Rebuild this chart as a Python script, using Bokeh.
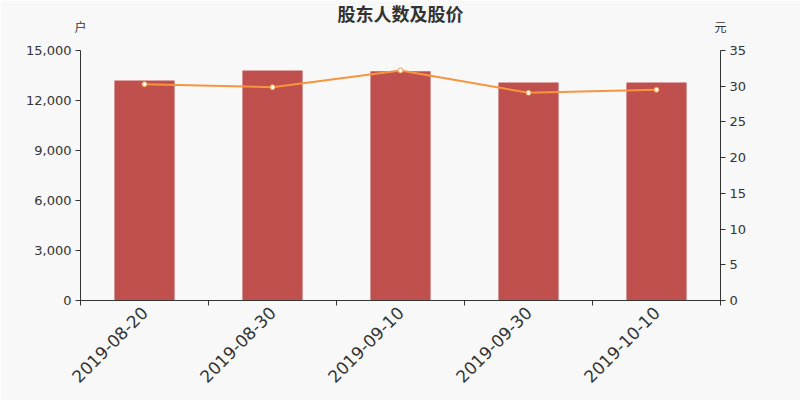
import math
from bokeh.plotting import figure
from bokeh.models import Range1d, LinearAxis, FixedTicker, NumeralTickFormatter, ColumnDataSource
from bokeh.embed import file_html
from bokeh.resources import INLINE

dates = ["2019-08-20", "2019-08-30", "2019-09-10", "2019-09-30", "2019-10-10"]
holders = [13200, 13800, 13750, 13080, 13080]
prices = [30.28, 29.87, 32.2, 29.08, 29.5]
left_ticks = [0, 3000, 6000, 9000, 12000, 15000]
right_ticks = [0, 5, 10, 15, 20, 25, 30, 35]
title_text = "股东人数及股价"
left_unit = "户"
right_unit = "元"

BAR = "#c0504d"
LINE = "#f7953f"
TXT = "#333333"
BG = "#f8f8f8"

xs = list(range(len(dates)))
x_lo, x_hi = -0.5, len(dates) - 0.5
src = ColumnDataSource(dict(x=xs, holders=holders, prices=prices))

p = figure(width=800, height=400, output_backend="svg", toolbar_location=None,
           title=title_text,
           x_range=Range1d(x_lo, x_hi),
           y_range=Range1d(left_ticks[0], left_ticks[-1]),
           min_border_left=80, min_border_right=80, min_border_top=50, min_border_bottom=100,
           background_fill_color=BG, border_fill_color=BG, outline_line_color=None)
p.xgrid.grid_line_color = None
p.ygrid.grid_line_color = None

p.title.align = "center"
p.title.text_font = "Noto Sans CJK SC"
p.title.text_font_size = "18px"
p.title.text_font_style = "bold"
p.title.text_color = TXT
p.title.standoff = -22

p.extra_y_ranges = {"price": Range1d(right_ticks[0], right_ticks[-1])}

p.vbar(x="x", top="holders", width=0.47, source=src, fill_color=BAR, line_color=None)
p.line(x="x", y="prices", source=src, y_range_name="price", line_color=LINE, line_width=2)
p.scatter(x="x", y="prices", source=src, y_range_name="price", size=5,
          fill_color="white", line_color=LINE, line_width=1)

# x axis
xa = p.xaxis[0]
xa.ticker = FixedTicker(ticks=xs, minor_ticks=[i - 0.5 for i in range(len(dates) + 1)])
xa.major_label_overrides = {i: d for i, d in zip(xs, dates)}
xa.major_label_orientation = math.pi / 4
xa.major_tick_out = 0
xa.major_tick_in = 0
xa.minor_tick_out = 5
xa.minor_tick_in = 0
xa.minor_tick_line_color = TXT
xa.axis_line_color = TXT
xa.major_label_text_font = "DejaVu Sans"
xa.major_label_text_font_size = "17px"
xa.major_label_text_color = TXT
xa.major_label_standoff = 4

# unit labels, as an axis above the frame with no line or ticks
ua = LinearAxis(ticker=FixedTicker(ticks=[x_lo, x_hi]),
                major_label_overrides={x_lo: left_unit, x_hi: right_unit})
ua.axis_line_color = None
ua.major_tick_line_color = None
ua.minor_tick_line_color = None
ua.major_label_text_font = "Noto Sans CJK SC"
ua.major_label_text_font_size = "12px"
ua.major_label_text_color = TXT
ua.major_label_standoff = 10
p.add_layout(ua, "above")

# left axis
ya = p.yaxis[0]
ya.ticker = FixedTicker(ticks=left_ticks)
ya.formatter = NumeralTickFormatter(format="0,0")
ya.major_tick_out = 5
ya.major_tick_in = 0
ya.minor_tick_line_color = None
ya.axis_line_color = TXT
ya.major_tick_line_color = TXT
ya.major_label_text_font = "DejaVu Sans"
ya.major_label_text_font_size = "13px"
ya.major_label_text_color = TXT
ya.major_label_standoff = 4

# right axis
ra = LinearAxis(y_range_name="price", ticker=FixedTicker(ticks=right_ticks))
ra.major_tick_out = 5
ra.major_tick_in = 0
ra.minor_tick_line_color = None
ra.axis_line_color = TXT
ra.major_tick_line_color = TXT
ra.major_label_text_font = "DejaVu Sans"
ra.major_label_text_font_size = "13px"
ra.major_label_text_color = TXT
ra.major_label_standoff = 4
p.add_layout(ra, "right")

open("out.html", "w").write(file_html(p, INLINE))
